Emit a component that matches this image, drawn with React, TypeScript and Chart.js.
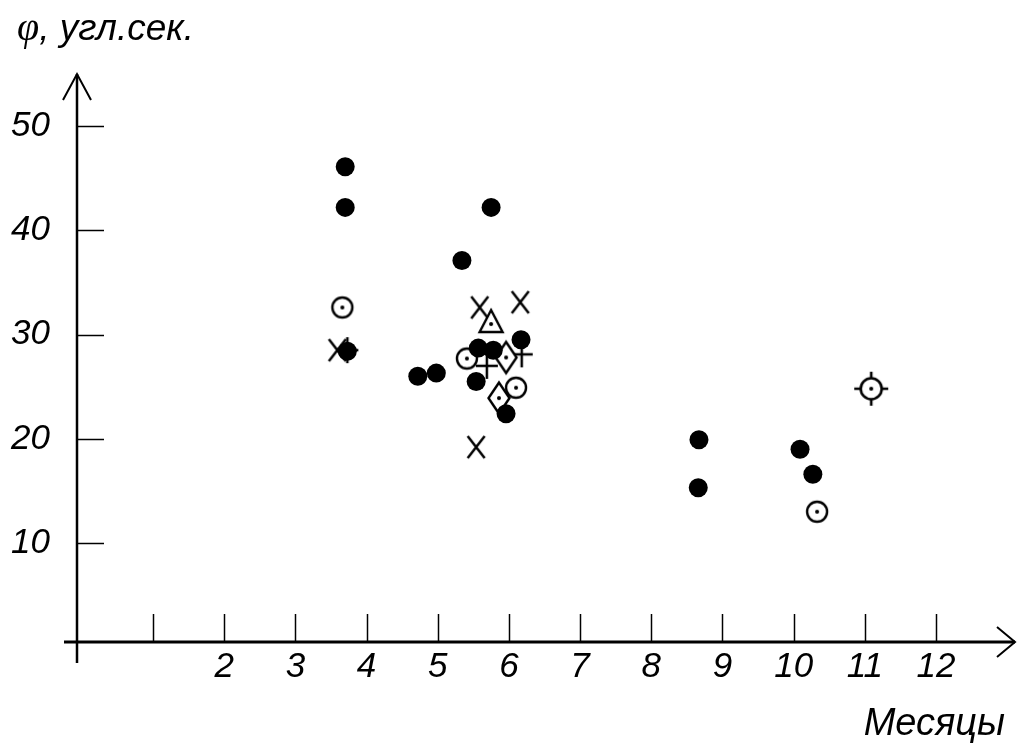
import React, { useEffect, useRef } from 'react';
import { Chart, registerables } from 'chart.js';

Chart.register(...registerables);

// Axis ticks
const xTickMarks = [1, 2, 3, 4, 5, 6, 7, 8, 9, 10, 11, 12];
const xTickLabels = [2, 3, 4, 5, 6, 7, 8, 9, 10, 11, 12];
const yTickValues = [10, 20, 30, 40, 50];

// Filled circles
const filledX = [3.7, 3.7, 3.73, 4.72, 4.98, 5.34, 5.75, 5.57, 5.78, 5.54, 6.17, 5.96, 8.67, 8.66, 10.09, 10.27];
const filledY = [46.1, 42.2, 28.4, 26.0, 26.3, 37.1, 42.2, 28.7, 28.5, 25.5, 29.5, 22.4, 19.9, 15.3, 19.0, 16.6];

// Circle with dot
const dotCircleX = [3.66, 5.41, 6.1, 10.33];
const dotCircleY = [32.6, 27.7, 24.9, 13.0];

// Circle with dot and four ticks
const crosshairX = [11.09];
const crosshairY = [24.8];

// Oblique crosses
const xMarkX = [3.59, 5.59, 6.16, 5.54];
const xMarkY = [28.5, 32.6, 33.1, 19.2];

// Straight crosses
const plusX = [3.73, 5.69, 6.18];
const plusY = [28.5, 27.0, 28.1];

// Triangle with dot
const triangleX = [5.75];
const triangleY = [31.2];

// Diamond with dot
const diamondX = [5.96, 5.86];
const diamondY = [27.8, 23.9];

const X_MIN = -0.068;
const X_MAX = 13.11;
const Y_MIN = 0.5;
const Y_MAX = 55;

const SANS = '"Liberation Sans", Arial, sans-serif';
const SERIF = '"Liberation Serif", "Times New Roman", serif';

function pts(xs: number[], ys: number[]) {
  return xs.map((x, i) => ({ x, y: ys[i] }));
}

function makeMarker(size: number, draw: (ctx: CanvasRenderingContext2D) => void) {
  const c = document.createElement('canvas');
  c.width = size;
  c.height = size;
  const ctx = c.getContext('2d')!;
  ctx.translate(size / 2, size / 2);
  ctx.strokeStyle = '#000';
  ctx.fillStyle = '#000';
  ctx.lineCap = 'butt';
  draw(ctx);
  return c;
}

function dot(ctx: CanvasRenderingContext2D, dy = 0) {
  ctx.beginPath();
  ctx.arc(0, dy, 2, 0, Math.PI * 2);
  ctx.fillStyle = '#000';
  ctx.fill();
}

const axesPlugin = {
  id: 'customAxes',
  afterDraw(chart: any) {
    const ctx = chart.ctx as CanvasRenderingContext2D;
    const xs = chart.scales.x;
    const ys = chart.scales.y;
    const x0 = xs.getPixelForValue(X_MIN);
    const y0 = ys.getPixelForValue(Y_MIN);
    const yTop = ys.getPixelForValue(Y_MAX);
    const xRight = xs.getPixelForValue(X_MAX);
    ctx.save();
    ctx.strokeStyle = '#000';
    ctx.lineCap = 'butt';
    // y axis
    ctx.lineWidth = 2.5;
    ctx.beginPath();
    ctx.moveTo(x0, y0 + 21);
    ctx.lineTo(x0, yTop);
    ctx.stroke();
    ctx.lineWidth = 2;
    ctx.beginPath();
    ctx.moveTo(x0 - 14, yTop + 26);
    ctx.lineTo(x0, yTop);
    ctx.lineTo(x0 + 14, yTop + 26);
    ctx.stroke();
    // x axis
    ctx.lineWidth = 3;
    ctx.beginPath();
    ctx.moveTo(x0 - 13, y0);
    ctx.lineTo(xRight, y0);
    ctx.stroke();
    ctx.lineWidth = 2;
    ctx.beginPath();
    ctx.moveTo(xRight - 18, y0 - 15);
    ctx.lineTo(xRight, y0);
    ctx.lineTo(xRight - 18, y0 + 15);
    ctx.stroke();
    // ticks
    ctx.lineWidth = 1.5;
    xTickMarks.forEach((m) => {
      const px = Math.round(xs.getPixelForValue(m)) + 0.5;
      ctx.beginPath();
      ctx.moveTo(px, y0);
      ctx.lineTo(px, y0 - 28);
      ctx.stroke();
    });
    yTickValues.forEach((v) => {
      const py = Math.round(ys.getPixelForValue(v)) + 0.5;
      ctx.beginPath();
      ctx.moveTo(x0, py);
      ctx.lineTo(x0 + 27, py);
      ctx.stroke();
    });
    // axis titles
    ctx.fillStyle = '#000';
    ctx.textBaseline = 'alphabetic';
    ctx.textAlign = 'left';
    ctx.font = `italic 40px ${SERIF}`;
    const phi = 'φ';
    ctx.fillText(phi, 17, 40);
    const pw = ctx.measureText(phi).width;
    ctx.font = `italic 37px ${SANS}`;
    ctx.fillText(', угл.сек.', 17 + pw, 40);
    ctx.font = `italic 38px ${SANS}`;
    ctx.textAlign = 'right';
    ctx.fillText('Месяцы', 1005, 735);
    ctx.restore();
  },
};

export default function App() {
  const ref = useRef<HTMLCanvasElement | null>(null);

  useEffect(() => {
    document.body.style.margin = '0';
    const canvas = ref.current;
    if (!canvas) return;

    const dotCircle = makeMarker(28, (ctx) => {
      ctx.beginPath();
      ctx.arc(0, 0, 10, 0, Math.PI * 2);
      ctx.fillStyle = '#fff';
      ctx.fill();
      ctx.lineWidth = 2.4;
      ctx.stroke();
      dot(ctx);
    });
    const crosshair = makeMarker(40, (ctx) => {
      ctx.beginPath();
      ctx.arc(0, 0, 10.5, 0, Math.PI * 2);
      ctx.fillStyle = '#fff';
      ctx.fill();
      ctx.lineWidth = 2.6;
      ctx.stroke();
      ctx.lineWidth = 2.6;
      ctx.beginPath();
      ctx.moveTo(0, -10); ctx.lineTo(0, -17);
      ctx.moveTo(0, 10); ctx.lineTo(0, 17);
      ctx.moveTo(-10, 0); ctx.lineTo(-17, 0);
      ctx.moveTo(10, 0); ctx.lineTo(17, 0);
      ctx.stroke();
      dot(ctx);
    });
    const xMark = makeMarker(28, (ctx) => {
      ctx.lineWidth = 2.5;
      ctx.beginPath();
      ctx.moveTo(-8.5, -11); ctx.lineTo(8.5, 11);
      ctx.moveTo(8.5, -11); ctx.lineTo(-8.5, 11);
      ctx.stroke();
    });
    const plus = makeMarker(28, (ctx) => {
      ctx.lineWidth = 2.5;
      ctx.beginPath();
      ctx.moveTo(-11, 0); ctx.lineTo(11, 0);
      ctx.moveTo(0, -13); ctx.lineTo(0, 13);
      ctx.stroke();
    });
    const triangle = makeMarker(32, (ctx) => {
      ctx.beginPath();
      ctx.moveTo(0, -12);
      ctx.lineTo(11.5, 10);
      ctx.lineTo(-11.5, 10);
      ctx.closePath();
      ctx.fillStyle = '#fff';
      ctx.fill();
      ctx.lineWidth = 2.4;
      ctx.lineJoin = 'miter';
      ctx.stroke();
      dot(ctx, 2);
    });
    const diamond = makeMarker(38, (ctx) => {
      ctx.beginPath();
      ctx.moveTo(0, -15.5);
      ctx.lineTo(10.5, 0);
      ctx.lineTo(0, 15.5);
      ctx.lineTo(-10.5, 0);
      ctx.closePath();
      ctx.fillStyle = '#fff';
      ctx.fill();
      ctx.lineWidth = 2.4;
      ctx.stroke();
      dot(ctx);
    });

    const mk = (data: any[], style: any, extra: any = {}) => ({
      data,
      pointStyle: style,
      pointRadius: 10,
      pointHoverRadius: 10,
      showLine: false,
      ...extra,
    });

    const chart = new Chart(canvas, {
      type: 'scatter',
      data: {
        datasets: [
          mk(pts(filledX, filledY), 'circle', {
            pointRadius: 9.5,
            pointHoverRadius: 9.5,
            backgroundColor: '#000',
            borderColor: '#000',
            borderWidth: 0,
          }),
          mk(pts(crosshairX, crosshairY), crosshair),
          mk(pts(dotCircleX, dotCircleY), dotCircle),
          mk(pts(triangleX, triangleY), triangle),
          mk(pts(diamondX, diamondY), diamond),
          mk(pts(plusX, plusY), plus),
          mk(pts(xMarkX, xMarkY), xMark),
        ],
      },
      options: {
        animation: false,
        responsive: false,
        maintainAspectRatio: false,
        layout: { autoPadding: false, padding: { top: 74, right: 3, left: 0, bottom: 0 } },
        plugins: {
          legend: { display: false },
          tooltip: { enabled: false },
          title: { display: false },
        },
        scales: {
          x: {
            type: 'linear',
            min: X_MIN,
            max: X_MAX,
            grid: { display: false, drawTicks: false },
            border: { display: false },
            afterBuildTicks: (scale: any) => {
              scale.ticks = xTickLabels.map((v) => ({ value: v }));
            },
            afterFit: (scale: any) => {
              scale.height = 107;
              scale.paddingLeft = 0;
              scale.paddingRight = 0;
            },
            ticks: {
              autoSkip: false,
              maxRotation: 0,
              padding: 4,
              color: '#000',
              font: { family: SANS, size: 35, style: 'italic' },
              callback: (v: any) => String(v),
            },
          },
          y: {
            type: 'linear',
            min: Y_MIN,
            max: Y_MAX,
            grid: { display: false, drawTicks: false },
            border: { display: false },
            afterBuildTicks: (scale: any) => {
              scale.ticks = yTickValues.map((v) => ({ value: v }));
            },
            afterFit: (scale: any) => {
              scale.width = 77;
            },
            ticks: {
              autoSkip: false,
              padding: 27,
              color: '#000',
              font: { family: SANS, size: 35, style: 'italic' },
              callback: (v: any) => String(v),
            },
          },
        },
      },
      plugins: [axesPlugin],
    });

    return () => {
      chart.destroy();
    };
  }, []);

  return (
    <div style={{ position: 'absolute', left: 0, top: 0, width: 1018, height: 749, background: '#fff' }}>
      <canvas ref={ref} width={1018} height={749} style={{ display: 'block' }} />
    </div>
  );
}
